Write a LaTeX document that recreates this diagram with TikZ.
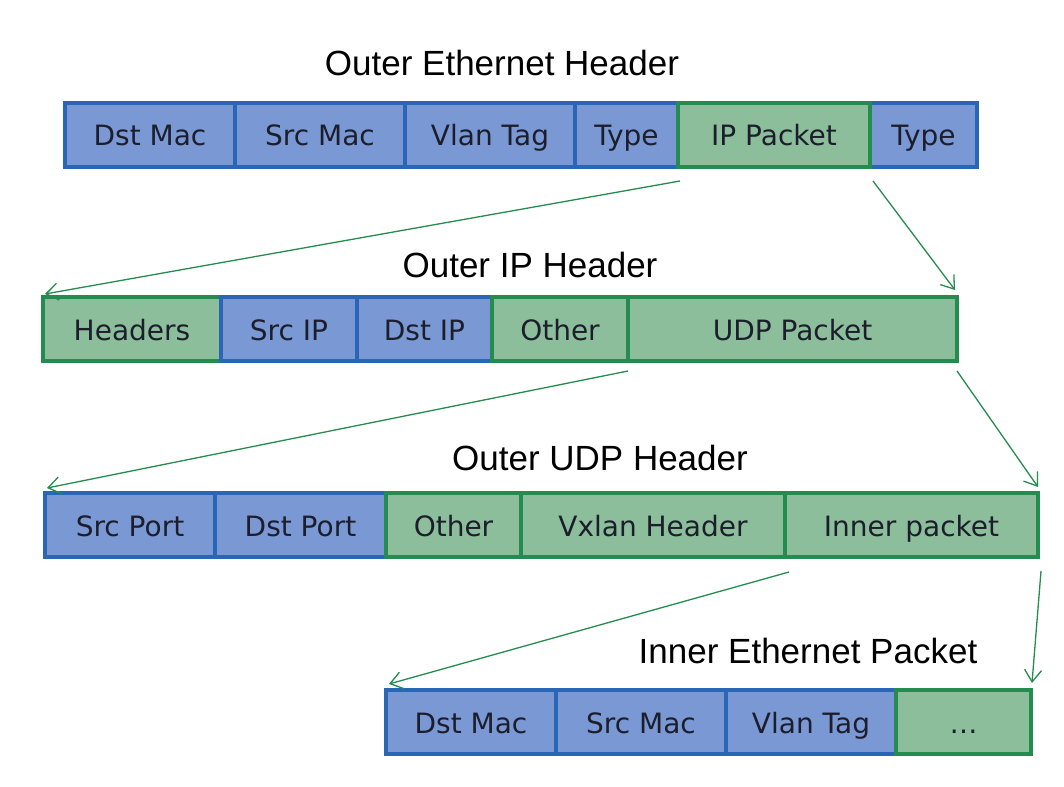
\documentclass[tikz,border=0pt]{standalone}
\usepackage{fontspec}
\setmainfont{Liberation Sans}
\newfontfamily\cellfont{DejaVu Sans}
\usepackage{tikz}
\usetikzlibrary{positioning,arrows.meta}

\definecolor{blueFill}{RGB}{122,152,212}
\definecolor{blueLine}{RGB}{42,102,182}
\definecolor{greenFill}{RGB}{140,190,156}
\definecolor{greenLine}{RGB}{36,140,78}
\definecolor{cellText}{RGB}{28,30,44}

\begin{document}
\begin{tikzpicture}[x=1pt,y=-1pt,node distance=0pt,
    cell/.style={rectangle,draw,line width=3.5pt,outer sep=0pt,inner sep=0pt,
                 minimum height=64pt,text=cellText,text height=24pt,text depth=2pt,
                 font=\cellfont\fontsize{28}{32}\selectfont},
    blue cell/.style={cell,fill=blueFill,draw=blueLine},
    green cell/.style={cell,fill=greenFill,draw=greenLine},
    title/.style={font=\fontsize{35}{40}\selectfont},
    link/.style={draw=greenLine,line width=1.3pt,-{Straight Barb[length=12pt,width=17pt]}}]
  \useasboundingbox (0,0) rectangle (1064,786);

  % outer ethernet header
  \node[title] (t1) at (502,63) {Outer Ethernet Header};
  \node[blue cell,minimum width=170pt,anchor=north west] (dmac) at (65,103) {Dst Mac};
  \node[blue cell,minimum width=170pt] (smac) [right=of dmac] {Src Mac};
  \node[blue cell,minimum width=170pt] (vlan) [right=of smac] {Vlan Tag};
  \node[blue cell,minimum width=103pt] (type) [right=of vlan] {Type};
  \node[blue cell,minimum width=107pt,anchor=west] (type2) at (870,135) {Type};
  \node[green cell,minimum width=192pt] (ip) [right=of type] {IP Packet};

  % outer ip header
  \node[title] (t2) at (530,265) {Outer IP Header};
  \node[green cell,minimum width=178pt,anchor=north west] (hdrs) at (43,297) {Headers};
  \node[blue cell,minimum width=136pt] (srcip) [right=of hdrs] {Src IP};
  \node[blue cell,minimum width=135pt] (dstip) [right=of srcip] {Dst IP};
  \node[green cell,minimum width=136pt] (other) [right=of dstip] {Other};
  \node[green cell,minimum width=329pt] (udp) [right=of other] {UDP Packet};

  % outer udp header
  \node[title] (t3) at (600,458) {Outer UDP Header};
  \node[blue cell,minimum width=170pt,anchor=north west] (sport) at (45,493) {Src Port};
  \node[blue cell,minimum width=171pt] (dport) [right=of sport] {Dst Port};
  \node[green cell,minimum width=135pt] (other2) [right=of dport] {Other};
  \node[green cell,minimum width=264pt] (vxlan) [right=of other2] {Vxlan Header};
  \node[green cell,minimum width=253pt] (inner) [right=of vxlan] {Inner packet};

  % inner ethernet packet
  \node[title] (t4) at (808,651) {Inner Ethernet Packet};
  \node[blue cell,minimum width=170pt,anchor=north west] (idmac) at (386,690) {Dst Mac};
  \node[blue cell,minimum width=170pt] (ismac) [right=of idmac] {Src Mac};
  \node[blue cell,minimum width=170pt] (ivlan) [right=of ismac] {Vlan Tag};
  \node[green cell,minimum width=135pt] (dots) [right=of ivlan] {…};

  \draw[link] ([xshift=2pt,yshift=-14pt]ip.south west) -- ([xshift=2pt,yshift=3pt]hdrs.north west);
  \draw[link] ([xshift=3pt,yshift=-14pt]ip.south east) -- ([xshift=-2pt,yshift=7pt]udp.north east);
  \draw[link] ([yshift=-10pt]udp.south west) -- ([xshift=2pt,yshift=5pt]sport.north west);
  \draw[link] ([yshift=-10pt]udp.south east) -- ([yshift=6pt]inner.north east);
  \draw[link] ([xshift=4pt,yshift=-15pt]inner.south west) -- ([xshift=3pt,yshift=6pt]idmac.north west);
  \draw[link] ([xshift=3pt,yshift=-14pt]inner.south east) -- ([xshift=1pt,yshift=7pt]dots.north east);

\end{tikzpicture}
\end{document}
